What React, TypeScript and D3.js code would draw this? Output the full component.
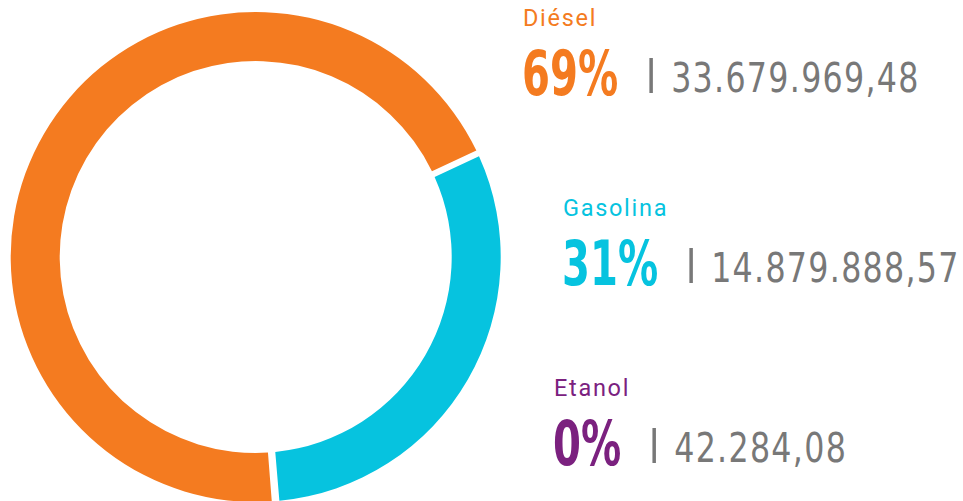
import React, { useEffect, useRef } from "react";
import * as d3 from "d3";

// ---- data ----
const categories = ["Diésel", "Gasolina", "Etanol"];
const values = [33679969.48, 14879888.57, 42284.08];
const percentLabels = ["69%", "31%", "0%"];
const valueLabels = ["33.679.969,48", "14.879.888,57", "42.284,08"];

// ---- styles / layout ----
const colors = ["#F47B20", "#06C3DF", "#7B217F"];
const GRAY = "#787878";
const legendPos = [
  { x: 522, y: 95 },
  { x: 562, y: 285 },
  { x: 553, y: 465 },
];
const NARROW = "'DejaVu Sans Condensed', 'DejaVu Sans', sans-serif";
const LABEL_FONT = "Roboto, 'Noto Sans', sans-serif";

export default function App() {
  const ref = useRef<SVGSVGElement>(null);

  useEffect(() => {
    const svg = d3.select(ref.current);
    svg.selectAll("*").remove();

    const cx = 255.7,
      cy = 257,
      rOut = 245,
      rIn = 196;
    const start = (175.5 * Math.PI) / 180;
    const pie = d3
      .pie<number>()
      .sort(null)
      .value((d) => d)
      .startAngle(start)
      .endAngle(start + 2 * Math.PI);
    const arc = d3
      .arc<d3.PieArcDatum<number>>()
      .innerRadius(rIn)
      .outerRadius(rOut)
      .padAngle(0.02);

    const g = svg.append("g").attr("transform", `translate(${cx},${cy})`);
    g.selectAll("path")
      .data(pie(values))
      .join("path")
      .attr("d", arc as any)
      .attr("fill", (_d, i) => colors[i]);

    const pctScale = 0.72;
    const valScale = 0.86;
    categories.forEach((cat, i) => {
      const { x, y } = legendPos[i];
      const lg = svg.append("g");
      lg.append("text")
        .attr("x", x + 1)
        .attr("y", y - 69)
        .attr("font-family", LABEL_FONT)
        .attr("font-size", 23.5)
        .attr("letter-spacing", 1.7)
        .attr("fill", colors[i])
        .text(cat);

      const pct = lg
        .append("text")
        .attr("transform", `translate(${x},${y}) scale(${pctScale},1)`)
        .attr("font-family", NARROW)
        .attr("font-weight", "bold")
        .attr("font-size", 62)
        .attr("fill", colors[i])
        .text(percentLabels[i]);
      const w = (pct.node() as SVGTextElement).getComputedTextLength() * pctScale;

      const px = x + w + 33;
      lg.append("line")
        .attr("x1", px)
        .attr("x2", px)
        .attr("y1", y - 37)
        .attr("y2", y - 2)
        .attr("stroke", GRAY)
        .attr("stroke-width", 3.5);

      lg.append("text")
        .attr("transform", `translate(${px + 20},${y - 3}) scale(${valScale},1)`)
        .attr("font-family", NARROW)
        .attr("font-size", 41)
        .attr("letter-spacing", 1.5)
        .attr("fill", GRAY)
        .text(valueLabels[i]);
    });
  }, []);

  return (
    <svg
      ref={ref}
      width={963}
      height={501}
      style={{ position: "absolute", left: 0, top: 0, background: "#fff" }}
    />
  );
}
